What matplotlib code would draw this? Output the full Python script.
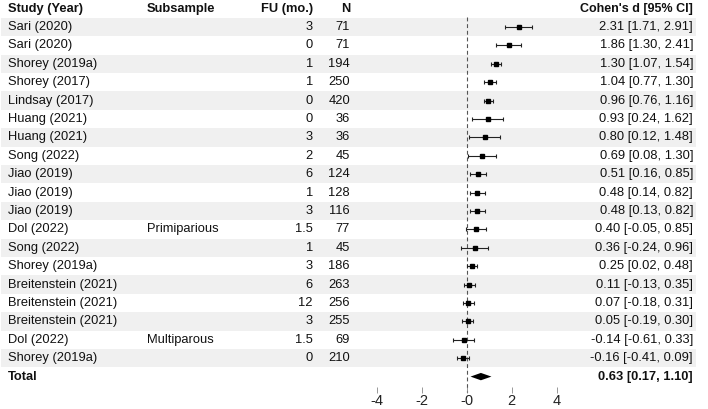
import matplotlib
matplotlib.use("Agg")
import matplotlib.pyplot as plt

studies = ["Sari (2020)", "Sari (2020)", "Shorey (2019a)", "Shorey (2017)", "Lindsay (2017)",
           "Huang (2021)", "Huang (2021)", "Song (2022)", "Jiao (2019)", "Jiao (2019)",
           "Jiao (2019)", "Dol (2022)", "Song (2022)", "Shorey (2019a)", "Breitenstein (2021)",
           "Breitenstein (2021)", "Breitenstein (2021)", "Dol (2022)", "Shorey (2019a)"]
subsample = ["", "", "", "", "", "", "", "", "", "", "", "Primiparious", "", "", "", "", "",
             "Multiparous", ""]
fu = ["3", "0", "1", "1", "0", "0", "3", "2", "6", "1", "3", "1.5", "1", "3", "6", "12", "3",
      "1.5", "0"]
n = ["71", "71", "194", "250", "420", "36", "36", "45", "124", "128", "116", "77", "45", "186",
     "263", "256", "255", "69", "210"]
d = [2.31, 1.86, 1.30, 1.04, 0.96, 0.93, 0.80, 0.69, 0.51, 0.48, 0.48, 0.40, 0.36, 0.25, 0.11,
     0.07, 0.05, -0.14, -0.16]
lo = [1.71, 1.30, 1.07, 0.77, 0.76, 0.24, 0.12, 0.08, 0.16, 0.14, 0.13, -0.05, -0.24, 0.02,
      -0.13, -0.18, -0.19, -0.61, -0.41]
hi = [2.91, 2.41, 1.54, 1.30, 1.16, 1.62, 1.48, 1.30, 0.85, 0.82, 0.82, 0.85, 0.96, 0.48, 0.35,
      0.31, 0.30, 0.33, 0.09]
total_d, total_lo, total_hi = 0.63, 0.17, 1.10
headers = ["Study (Year)", "Subsample", "FU (mo.)", "N", "Cohen's d [95% CI]"]
xticks = [-4, -2, 0, 2, 4]
xticklabels = ["-4", "-2", "-0", "2", "4"]

plt.rcParams['font.family'] = ['Liberation Sans', 'DejaVu Sans']
FS = 9.3
W, H = 708, 409
fig = plt.figure(figsize=(W / 100, H / 100), dpi=100)

# pixel geometry
x0_px = 466.7      # x of d=0
unit_px = 22.5     # px per unit d
row0_px = 8.6      # header row center
row_h = 18.4
ax_bottom_px = 393

ax = fig.add_axes([0, (H - ax_bottom_px) / H, 1, ax_bottom_px / H])
ax.set_xlim(-x0_px / unit_px, (W - x0_px) / unit_px)
ax.set_ylim((ax_bottom_px - row0_px) / row_h, -row0_px / row_h)
for s in ax.spines.values():
    s.set_visible(False)
ax.set_yticks([])


def px2x(px):
    return (px - x0_px) / unit_px


nrows = len(studies)
# bands
for i in range(nrows):
    k = i + 1
    if k % 2 == 1:
        ax.fill_between([px2x(1), px2x(696)], k - 0.5, k + 0.5, color="#f0f0f0", lw=0, zorder=0)

TC = "#111111"
# header
hx = [px2x(8), px2x(147), px2x(313), px2x(350), px2x(693)]
ha = ["left", "left", "right", "right", "right"]
hfs = [FS, FS, FS, FS, 9.0]
for h, x, a, f in zip(headers, hx, ha, hfs):
    ax.text(x, 0, h, ha=a, va="center", fontsize=f, fontweight="bold", color=TC)

for i in range(nrows):
    k = i + 1
    ax.text(hx[0], k, studies[i], ha="left", va="center", fontsize=FS, color=TC)
    ax.text(hx[1], k, subsample[i], ha="left", va="center", fontsize=FS, color=TC)
    ax.text(hx[2], k, fu[i], ha="right", va="center", fontsize=FS, color=TC)
    ax.text(hx[3], k, n[i], ha="right", va="center", fontsize=FS, color=TC)
    ax.text(hx[4], k, f"{d[i]:.2f} [{lo[i]:.2f}, {hi[i]:.2f}]", ha="right", va="center",
            fontsize=FS, color=TC)
    ax.errorbar(d[i], k, xerr=[[d[i] - lo[i]], [hi[i] - d[i]]], fmt="s", color="black",
                ms=3.2, elinewidth=0.8, capsize=1.7, capthick=0.8, ecolor="#222222", zorder=3)

kt = nrows + 1
ax.text(hx[0], kt, "Total", ha="left", va="center", fontsize=FS, fontweight="bold", color=TC)
ax.text(hx[4], kt, f"{total_d:.2f} [{total_lo:.2f}, {total_hi:.2f}]", ha="right", va="center",
        fontsize=FS, fontweight="bold", color=TC)
ax.fill([total_lo, total_d, total_hi, total_d], [kt, kt - 0.2, kt, kt + 0.2], color="black",
        lw=0, zorder=3)

# reference line
ax.vlines(0, 0.46, (ax_bottom_px - row0_px) / row_h, colors="#555555", linewidth=0.8,
          linestyles=(0, (3.5, 2.5)), zorder=1)

ax.set_xticks(xticks)
ax.set_xticklabels(xticklabels)
ax.tick_params(axis="x", direction="in", length=4.3, width=0.6, color="#888888", pad=1.0,
               labelsize=10.5, labelcolor="#222222")

fig.savefig("out.png", dpi=100)
